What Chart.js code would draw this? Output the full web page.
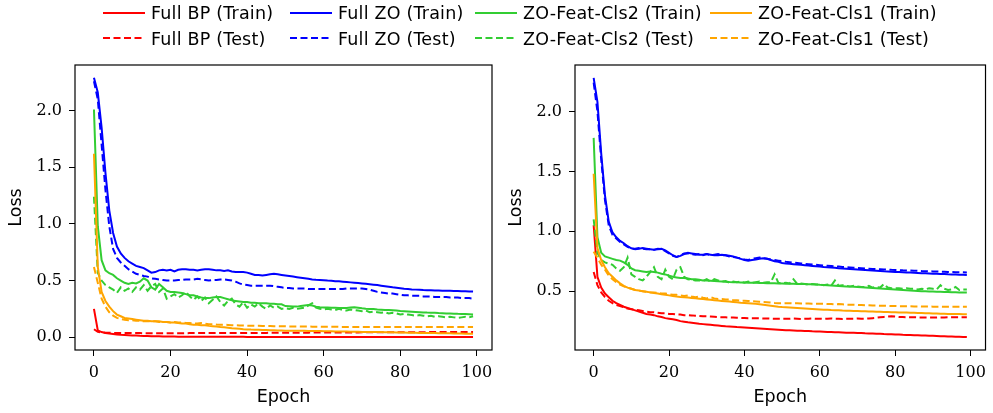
<!DOCTYPE html>
<html>
<head>
<meta charset="utf-8">
<script src="https://cdn.jsdelivr.net/npm/chart.js@4.4.0/dist/chart.umd.min.js"></script>
<style>
  html, body { margin: 0; padding: 0; background: #fff; }
  #wrap { position: relative; width: 993px; height: 413px; overflow: hidden; }
  #leftChart { position: absolute; left: 0; top: 0; }
  #rightChart { position: absolute; left: 500px; top: 0; }
  .leg-text { position: absolute; font: 17.5px "DejaVu Sans", sans-serif; letter-spacing: 0.2px; line-height: 20px; white-space: nowrap; color: #000; }
  .leg-line { position: absolute; }
</style>
</head>
<body>
<div id="wrap">
  <canvas id="leftChart" width="500" height="413"></canvas>
  <canvas id="rightChart" width="493" height="413"></canvas>
  <div id="legend"></div>
</div>
<script>
const epochs = Array.from({ length: 100 }, (_, i) => i);
const xTicks = [0, 20, 40, 60, 80, 100];
const leftYTicks = [0.0, 0.5, 1.0, 1.5, 2.0];
const rightYTicks = [0.5, 1.0, 1.5, 2.0];

const seriesNames = [
  "Full BP (Train)", "Full BP (Test)",
  "Full ZO (Train)", "Full ZO (Test)",
  "ZO-Feat-Cls2 (Train)", "ZO-Feat-Cls2 (Test)",
  "ZO-Feat-Cls1 (Train)", "ZO-Feat-Cls1 (Test)"
];
const seriesColors = ["#ff0000", "#ff0000", "#0000ff", "#0000ff", "#32cd32", "#32cd32", "#ffa500", "#ffa500"];

// left panel
const leftBpTrain = [
  0.25,0.06,0.045,0.038,0.032,0.028,0.024,0.021,0.019,0.017,
  0.015,0.014,0.012,0.011,0.010,0.009,0.008,0.008,0.007,0.007,
  0.006,0.006,0.005,0.005,0.005,0.004,0.004,0.004,0.004,0.003,
  0.003,0.003,0.003,0.003,0.003,0.003,0.003,0.003,0.003,0.003,
  0.002,0.002,0.002,0.002,0.002,0.002,0.002,0.002,0.002,0.002,
  0.002,0.002,0.002,0.002,0.002,0.002,0.002,0.002,0.002,0.002,
  0.002,0.002,0.002,0.002,0.002,0.002,0.002,0.002,0.002,0.002,
  0.001,0.001,0.001,0.001,0.001,0.001,0.001,0.001,0.001,0.001,
  0.001,0.001,0.001,0.001,0.001,0.001,0.001,0.001,0.001,0.001,
  0.001,0.001,0.001,0.001,0.001,0.001,0.001,0.001,0.001,0.001
];
const leftBpTest = [
  0.07,0.048,0.042,0.040,0.039,0.038,0.038,0.037,0.037,0.037,
  0.036,0.036,0.036,0.035,0.035,0.035,0.035,0.035,0.035,0.035,
  0.035,0.035,0.035,0.035,0.035,0.036,0.036,0.036,0.036,0.036,
  0.036,0.036,0.037,0.037,0.037,0.037,0.037,0.037,0.037,0.037,
  0.038,0.038,0.038,0.038,0.038,0.038,0.039,0.039,0.039,0.039,
  0.039,0.040,0.040,0.040,0.040,0.040,0.040,0.041,0.041,0.041,
  0.041,0.041,0.041,0.042,0.042,0.042,0.042,0.042,0.042,0.042,
  0.043,0.043,0.043,0.043,0.043,0.043,0.043,0.043,0.044,0.044,
  0.044,0.044,0.044,0.044,0.044,0.044,0.044,0.045,0.045,0.045,
  0.045,0.045,0.045,0.045,0.045,0.045,0.045,0.045,0.045,0.045
];
const leftZoTrain = [
  2.29,2.16,1.85,1.45,1.12,0.92,0.80,0.74,0.70,0.67,
  0.65,0.63,0.62,0.61,0.59,0.57,0.575,0.59,0.595,0.59,
  0.595,0.58,0.595,0.60,0.60,0.595,0.595,0.59,0.595,0.60,
  0.60,0.595,0.59,0.59,0.585,0.59,0.58,0.575,0.575,0.575,
  0.57,0.56,0.55,0.55,0.545,0.55,0.555,0.56,0.555,0.55,
  0.545,0.54,0.535,0.53,0.525,0.52,0.515,0.51,0.507,0.505,
  0.503,0.50,0.498,0.495,0.493,0.49,0.487,0.484,0.481,0.478,
  0.475,0.472,0.468,0.464,0.46,0.455,0.45,0.445,0.44,0.436,
  0.432,0.428,0.425,0.422,0.42,0.418,0.416,0.415,0.414,0.413,
  0.412,0.411,0.41,0.409,0.408,0.407,0.406,0.405,0.404,0.403
];
const leftZoTest = [
  2.26,2.10,1.70,1.30,0.98,0.78,0.70,0.66,0.63,0.60,
  0.58,0.56,0.55,0.54,0.535,0.52,0.515,0.51,0.505,0.50,
  0.50,0.50,0.505,0.505,0.51,0.51,0.51,0.515,0.51,0.505,
  0.50,0.505,0.505,0.51,0.51,0.505,0.50,0.49,0.475,0.465,
  0.46,0.455,0.455,0.455,0.455,0.455,0.455,0.45,0.445,0.44,
  0.435,0.435,0.43,0.43,0.43,0.43,0.425,0.425,0.425,0.425,
  0.425,0.425,0.425,0.425,0.425,0.425,0.43,0.43,0.43,0.43,
  0.43,0.425,0.42,0.41,0.40,0.395,0.39,0.385,0.385,0.38,
  0.375,0.37,0.37,0.365,0.365,0.365,0.36,0.36,0.36,0.355,
  0.355,0.355,0.355,0.35,0.35,0.35,0.345,0.345,0.345,0.34
];
const leftCls2Train = [
  2.01,0.98,0.68,0.59,0.565,0.55,0.52,0.50,0.48,0.47,
  0.48,0.475,0.49,0.52,0.50,0.44,0.42,0.47,0.44,0.41,
  0.40,0.40,0.395,0.39,0.38,0.37,0.37,0.36,0.35,0.345,
  0.345,0.35,0.355,0.355,0.345,0.335,0.325,0.32,0.315,0.31,
  0.31,0.305,0.305,0.30,0.30,0.30,0.295,0.295,0.29,0.29,
  0.275,0.273,0.27,0.27,0.275,0.28,0.285,0.28,0.27,0.265,
  0.263,0.262,0.26,0.259,0.258,0.257,0.258,0.262,0.264,0.26,
  0.255,0.252,0.25,0.248,0.245,0.243,0.241,0.24,0.238,0.236,
  0.231,0.229,0.227,0.225,0.223,0.221,0.219,0.217,0.216,0.215,
  0.213,0.212,0.21,0.209,0.208,0.206,0.205,0.204,0.202,0.20
];
const leftCls2Test = [
  1.24,0.57,0.50,0.46,0.44,0.42,0.39,0.44,0.41,0.43,
  0.40,0.44,0.42,0.46,0.41,0.45,0.47,0.40,0.43,0.34,
  0.36,0.38,0.35,0.37,0.40,0.36,0.33,0.36,0.32,0.35,
  0.30,0.33,0.36,0.31,0.28,0.32,0.34,0.29,0.27,0.31,
  0.26,0.29,0.27,0.30,0.27,0.25,0.28,0.26,0.27,0.25,
  0.255,0.25,0.26,0.25,0.255,0.26,0.28,0.30,0.26,0.25,
  0.245,0.25,0.245,0.24,0.25,0.24,0.235,0.245,0.24,0.235,
  0.23,0.235,0.22,0.225,0.22,0.215,0.22,0.21,0.215,0.21,
  0.20,0.205,0.20,0.195,0.19,0.195,0.19,0.185,0.19,0.18,
  0.185,0.18,0.175,0.18,0.175,0.17,0.175,0.18,0.175,0.185
];
const leftCls1Train = [
  1.62,0.62,0.40,0.32,0.27,0.23,0.20,0.185,0.17,0.165,
  0.16,0.155,0.15,0.145,0.145,0.14,0.14,0.14,0.135,0.135,
  0.13,0.13,0.125,0.12,0.12,0.115,0.11,0.11,0.105,0.105,
  0.10,0.097,0.094,0.09,0.087,0.084,0.08,0.077,0.074,0.071,
  0.069,0.067,0.066,0.065,0.064,0.063,0.062,0.061,0.06,0.059,
  0.058,0.058,0.057,0.057,0.056,0.056,0.055,0.055,0.054,0.054,
  0.053,0.052,0.052,0.051,0.051,0.050,0.050,0.049,0.049,0.048,
  0.047,0.047,0.046,0.046,0.045,0.045,0.044,0.044,0.043,0.042,
  0.041,0.041,0.040,0.040,0.039,0.038,0.038,0.037,0.037,0.036,
  0.035,0.035,0.034,0.034,0.033,0.033,0.032,0.031,0.031,0.030
];
const leftCls1Test = [
  0.62,0.48,0.34,0.27,0.22,0.19,0.17,0.16,0.155,0.15,
  0.15,0.145,0.145,0.14,0.14,0.14,0.14,0.135,0.135,0.135,
  0.13,0.135,0.13,0.13,0.125,0.125,0.12,0.12,0.125,0.12,
  0.115,0.115,0.112,0.11,0.11,0.108,0.106,0.105,0.104,0.103,
  0.102,0.101,0.10,0.10,0.099,0.098,0.098,0.097,0.097,0.096,
  0.096,0.095,0.095,0.095,0.094,0.094,0.094,0.093,0.093,0.093,
  0.092,0.092,0.092,0.092,0.091,0.091,0.091,0.091,0.09,0.09,
  0.09,0.09,0.09,0.09,0.09,0.09,0.09,0.09,0.09,0.09,
  0.09,0.09,0.09,0.09,0.09,0.09,0.09,0.09,0.09,0.09,
  0.09,0.09,0.09,0.09,0.09,0.09,0.09,0.09,0.09,0.09
];

// right panel
const rightBpTrain = [
  1.05,0.62,0.53,0.48,0.45,0.42,0.40,0.385,0.37,0.36,
  0.35,0.34,0.33,0.32,0.31,0.305,0.30,0.29,0.285,0.275,
  0.27,0.265,0.26,0.25,0.245,0.24,0.236,0.232,0.228,0.225,
  0.222,0.219,0.216,0.213,0.21,0.207,0.205,0.203,0.20,0.198,
  0.196,0.194,0.192,0.19,0.188,0.186,0.184,0.182,0.18,0.178,
  0.176,0.174,0.173,0.172,0.170,0.169,0.168,0.167,0.165,0.164,
  0.163,0.162,0.160,0.159,0.158,0.157,0.156,0.154,0.153,0.152,
  0.151,0.150,0.148,0.147,0.146,0.145,0.144,0.142,0.141,0.140,
  0.139,0.138,0.136,0.135,0.134,0.133,0.132,0.130,0.129,0.128,
  0.127,0.126,0.124,0.123,0.122,0.121,0.120,0.119,0.118,0.117
];
const rightBpTest = [
  0.66,0.55,0.49,0.45,0.42,0.40,0.385,0.375,0.365,0.355,
  0.35,0.345,0.34,0.335,0.33,0.325,0.325,0.32,0.315,0.315,
  0.31,0.31,0.305,0.305,0.30,0.30,0.298,0.295,0.293,0.29,
  0.29,0.288,0.286,0.284,0.283,0.282,0.28,0.28,0.278,0.277,
  0.276,0.275,0.275,0.274,0.273,0.272,0.272,0.271,0.27,0.27,
  0.27,0.27,0.27,0.272,0.27,0.268,0.27,0.27,0.272,0.27,
  0.27,0.268,0.27,0.272,0.27,0.27,0.268,0.27,0.27,0.27,
  0.272,0.27,0.27,0.272,0.275,0.278,0.282,0.285,0.288,0.29,
  0.288,0.285,0.284,0.283,0.282,0.282,0.281,0.281,0.28,0.28,
  0.28,0.28,0.281,0.281,0.282,0.282,0.283,0.283,0.283,0.283
];
const rightZoTrain = [
  2.28,2.08,1.65,1.30,1.08,0.99,0.95,0.92,0.90,0.875,
  0.858,0.85,0.855,0.86,0.855,0.85,0.845,0.85,0.853,0.84,
  0.82,0.80,0.785,0.795,0.81,0.82,0.815,0.81,0.805,0.805,
  0.81,0.805,0.80,0.80,0.805,0.80,0.795,0.79,0.78,0.77,
  0.76,0.755,0.76,0.765,0.77,0.775,0.77,0.76,0.75,0.745,
  0.735,0.73,0.728,0.725,0.722,0.72,0.717,0.714,0.711,0.708,
  0.705,0.702,0.70,0.698,0.695,0.692,0.69,0.688,0.686,0.683,
  0.68,0.678,0.676,0.674,0.672,0.67,0.668,0.666,0.665,0.663,
  0.661,0.66,0.658,0.656,0.655,0.653,0.652,0.65,0.649,0.648,
  0.646,0.645,0.644,0.643,0.641,0.64,0.639,0.638,0.637,0.636
];
const rightZoTest = [
  2.24,2.0,1.60,1.26,1.05,0.97,0.94,0.91,0.89,0.87,
  0.855,0.855,0.86,0.855,0.85,0.85,0.845,0.855,0.85,0.835,
  0.815,0.795,0.785,0.80,0.815,0.815,0.81,0.805,0.81,0.80,
  0.81,0.80,0.805,0.81,0.80,0.80,0.79,0.785,0.78,0.775,
  0.765,0.76,0.77,0.775,0.78,0.775,0.77,0.765,0.76,0.755,
  0.75,0.745,0.742,0.738,0.735,0.732,0.728,0.725,0.722,0.72,
  0.717,0.714,0.712,0.71,0.707,0.705,0.702,0.70,0.698,0.696,
  0.694,0.692,0.69,0.688,0.686,0.684,0.683,0.681,0.68,0.678,
  0.677,0.676,0.674,0.673,0.672,0.671,0.67,0.668,0.667,0.666,
  0.665,0.664,0.663,0.662,0.661,0.66,0.659,0.658,0.657,0.656
];
const rightCls2Train = [
  1.78,0.95,0.82,0.79,0.78,0.77,0.76,0.755,0.74,0.72,
  0.69,0.675,0.67,0.665,0.66,0.665,0.66,0.655,0.645,0.64,
  0.63,0.62,0.615,0.61,0.61,0.605,0.60,0.60,0.595,0.59,
  0.59,0.588,0.585,0.582,0.58,0.578,0.576,0.575,0.574,0.573,
  0.572,0.571,0.57,0.57,0.569,0.568,0.567,0.566,0.566,0.565,
  0.564,0.563,0.562,0.561,0.56,0.56,0.559,0.558,0.557,0.556,
  0.553,0.552,0.55,0.548,0.546,0.544,0.542,0.54,0.538,0.536,
  0.534,0.532,0.53,0.528,0.526,0.524,0.522,0.52,0.518,0.516,
  0.514,0.512,0.51,0.508,0.506,0.504,0.502,0.50,0.499,0.498,
  0.497,0.496,0.495,0.494,0.493,0.492,0.491,0.49,0.489,0.488
];
const rightCls2Test = [
  1.10,0.82,0.76,0.74,0.73,0.72,0.69,0.67,0.70,0.78,
  0.64,0.62,0.60,0.59,0.62,0.66,0.70,0.62,0.60,0.68,
  0.62,0.60,0.68,0.70,0.62,0.60,0.595,0.59,0.59,0.585,
  0.60,0.58,0.60,0.59,0.58,0.585,0.57,0.58,0.575,0.58,
  0.57,0.58,0.57,0.575,0.58,0.57,0.575,0.575,0.64,0.57,
  0.565,0.57,0.565,0.60,0.56,0.565,0.56,0.555,0.56,0.555,
  0.555,0.55,0.555,0.545,0.59,0.545,0.55,0.545,0.54,0.545,
  0.54,0.535,0.535,0.545,0.53,0.535,0.53,0.56,0.53,0.525,
  0.525,0.525,0.52,0.525,0.52,0.52,0.515,0.52,0.515,0.525,
  0.52,0.515,0.55,0.52,0.51,0.515,0.535,0.51,0.515,0.515
];
const rightCls1Train = [
  1.48,0.86,0.76,0.70,0.65,0.62,0.59,0.565,0.545,0.53,
  0.52,0.51,0.505,0.50,0.495,0.49,0.485,0.48,0.475,0.47,
  0.465,0.46,0.455,0.452,0.45,0.447,0.444,0.44,0.437,0.434,
  0.431,0.428,0.425,0.422,0.419,0.416,0.413,0.41,0.407,0.404,
  0.402,0.40,0.397,0.394,0.39,0.386,0.382,0.378,0.374,0.37,
  0.367,0.365,0.363,0.361,0.359,0.357,0.355,0.353,0.351,0.349,
  0.347,0.345,0.344,0.342,0.341,0.34,0.338,0.337,0.336,0.335,
  0.334,0.333,0.332,0.331,0.33,0.329,0.328,0.327,0.326,0.325,
  0.324,0.323,0.322,0.321,0.32,0.319,0.318,0.317,0.316,0.315,
  0.314,0.313,0.312,0.311,0.31,0.31,0.309,0.309,0.308,0.308
];
const rightCls1Test = [
  0.83,0.78,0.72,0.68,0.63,0.60,0.575,0.555,0.54,0.53,
  0.52,0.51,0.505,0.50,0.495,0.49,0.49,0.485,0.48,0.48,
  0.475,0.47,0.47,0.465,0.46,0.465,0.455,0.45,0.455,0.445,
  0.44,0.45,0.44,0.435,0.435,0.43,0.43,0.425,0.425,0.42,
  0.42,0.418,0.416,0.414,0.412,0.41,0.408,0.405,0.402,0.40,
  0.40,0.40,0.40,0.398,0.40,0.398,0.397,0.398,0.396,0.395,
  0.395,0.394,0.393,0.392,0.39,0.392,0.39,0.388,0.387,0.386,
  0.385,0.384,0.383,0.382,0.38,0.38,0.379,0.378,0.377,0.376,
  0.376,0.375,0.375,0.374,0.374,0.373,0.373,0.372,0.372,0.372,
  0.371,0.371,0.371,0.37,0.37,0.37,0.37,0.37,0.37,0.37
];

const leftSeries = [leftBpTrain, leftBpTest, leftZoTrain, leftZoTest, leftCls2Train, leftCls2Test, leftCls1Train, leftCls1Test];
const rightSeries = [rightBpTrain, rightBpTest, rightZoTrain, rightZoTest, rightCls2Train, rightCls2Test, rightCls1Train, rightCls1Test];

const DASH = [7, 3.5];

const frameBox = {
  id: "frameBox",
  afterDatasetsDraw(chart) {
    const a = chart.chartArea;
    const ctx = chart.ctx;
    ctx.save();
    ctx.strokeStyle = "#000";
    ctx.lineWidth = 1.2;
    ctx.strokeRect(a.left, a.top, a.right - a.left, a.bottom - a.top);
    ctx.restore();
  }
};

function buildChart(canvasEl, series, yMin, yMax, yTicks, padRight) {
  const datasets = series.map((values, i) => ({
    label: seriesNames[i],
    data: values.map((v, e) => ({ x: epochs[e], y: v })),
    borderColor: seriesColors[i],
    borderDash: i % 2 === 1 ? DASH : [],
    borderWidth: 2,
    pointRadius: 0,
    tension: 0,
    fill: false,
    order: series.length - 1 - i
  }));

  const tickFont = { family: "'DejaVu Serif', serif", size: 16 };
  const titleFont = { family: "'DejaVu Sans', sans-serif", size: 17.5 };

  return new Chart(canvasEl, {
    type: "line",
    data: { datasets },
    options: {
      responsive: false,
      animation: false,
      devicePixelRatio: 1,
      layout: { padding: { top: 65, right: padRight, left: 0, bottom: 0 } },
      plugins: { legend: { display: false }, tooltip: { enabled: false } },
      scales: {
        x: {
          type: "linear",
          min: -4.95,
          max: 103.95,
          afterBuildTicks: (axis) => { axis.ticks = xTicks.map((v) => ({ value: v })); },
          afterFit: (axis) => { axis.height = 63; },
          border: { display: false },
          grid: { drawOnChartArea: false, drawTicks: true, tickLength: 6, color: "#000", lineWidth: 1 },
          ticks: { font: tickFont, color: "#000", padding: 7, maxRotation: 0, autoSkip: false, callback: (v) => String(v) },
          title: { display: true, text: "Epoch", font: titleFont, color: "#000", padding: { top: 0, bottom: 5 } }
        },
        y: {
          type: "linear",
          min: yMin,
          max: yMax,
          afterBuildTicks: (axis) => { axis.ticks = yTicks.map((v) => ({ value: v })); },
          afterFit: (axis) => { axis.width = 75; },
          border: { display: false },
          grid: { drawOnChartArea: false, drawTicks: true, tickLength: 6, color: "#000", lineWidth: 1 },
          ticks: { font: tickFont, color: "#000", padding: 7, autoSkip: false, callback: (v) => Number(v).toFixed(1) },
          title: { display: true, text: "Loss", font: titleFont, color: "#000", padding: { top: 6, bottom: 0 } }
        }
      }
    },
    plugins: [frameBox]
  });
}

function buildLegend(el) {
  const colX = [103, 290, 475, 710];
  const rowLineY = [12.5, 38];
  const rowTextTop = [3.4, 28.7];
  seriesNames.forEach((name, i) => {
    const col = Math.floor(i / 2);
    const row = i % 2;
    const x = colX[col];
    const svgNS = "http://www.w3.org/2000/svg";
    const svg = document.createElementNS(svgNS, "svg");
    svg.setAttribute("class", "leg-line");
    svg.setAttribute("width", "42");
    svg.setAttribute("height", "6");
    svg.style.left = x + "px";
    svg.style.top = (rowLineY[row] - 3) + "px";
    const line = document.createElementNS(svgNS, "line");
    line.setAttribute("x1", "0");
    line.setAttribute("x2", "42");
    line.setAttribute("y1", "3");
    line.setAttribute("y2", "3");
    line.setAttribute("stroke", seriesColors[i]);
    line.setAttribute("stroke-width", "2");
    if (row === 1) {
      line.setAttribute("stroke-dasharray", DASH.join(" "));
    }
    svg.appendChild(line);
    el.appendChild(svg);

    const span = document.createElement("span");
    span.className = "leg-text";
    span.textContent = name;
    span.style.left = (x + 48) + "px";
    span.style.top = rowTextTop[row] + "px";
    el.appendChild(span);
  });
}

buildChart(document.getElementById("leftChart"), leftSeries, -0.113, 2.403, leftYTicks, 8);
buildChart(document.getElementById("rightChart"), rightSeries, 0.009, 2.388, rightYTicks, 3);
buildLegend(document.getElementById("legend"));
</script>
</body>
</html>
